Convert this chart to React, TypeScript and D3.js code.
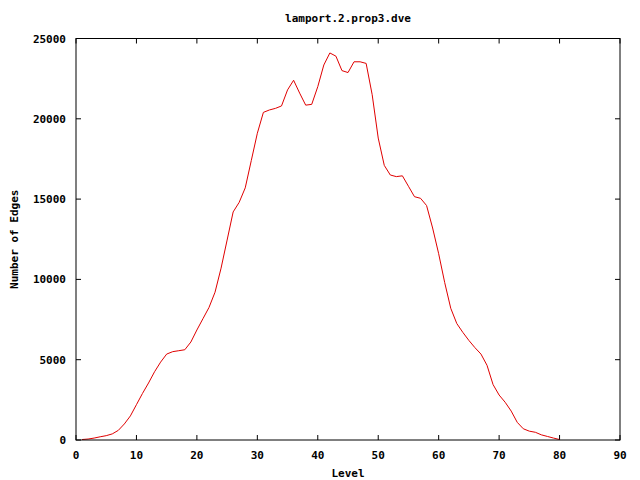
import React from "react";
import * as d3 from "d3";

const levels: number[] = Array.from({ length: 80 }, (_, i) => i + 1);
const edges: number[] = [
  30, 60, 120, 200, 270, 380, 600, 1000, 1500, 2200,
  2900, 3550, 4250, 4850, 5350, 5500, 5560, 5620, 6100, 6850,
  7550, 8250, 9200, 10700, 12450, 14200, 14800, 15700, 17400, 19100,
  20400, 20550, 20650, 20800, 21800, 22400, 21600, 20850, 20900, 22000,
  23350, 24100, 23900, 23000, 22880, 23550, 23550, 23450, 21500, 18800,
  17100, 16500, 16400, 16450, 15800, 15150, 15050, 14600, 13200, 11600,
  9800, 8200, 7250, 6700, 6200, 5750, 5350, 4650, 3450, 2800,
  2350, 1800, 1100, 700, 550, 480, 320, 220, 120, 30,
];
const xTicks: number[] = [0, 10, 20, 30, 40, 50, 60, 70, 80, 90];
const yTicks: number[] = [0, 5000, 10000, 15000, 20000, 25000];
const title = "lamport.2.prop3.dve";
const xLabel = "Level";
const yLabel = "Number of Edges";

export default function App() {
  const W = 640, H = 480;
  const L = 76, R = 620, T = 38.5, B = 440;
  const x = d3.scaleLinear().domain([0, 90]).range([L, R]);
  const y = d3.scaleLinear().domain([0, 25000]).range([B, T]);
  const line = d3
    .line<number>()
    .x((_, i) => x(levels[i]))
    .y((d) => y(d));
  const font = "'DejaVu Sans Mono', monospace";
  const tl = 5;
  return (
    <svg
      width={W}
      height={H}
      style={{ position: "absolute", left: 0, top: 0, background: "#fff" }}
      fontFamily={font}
      fontWeight="bold"
      fontSize={11}
    >
      <rect x={0} y={0} width={W} height={H} fill="#fff" />
      {xTicks.map((t) => (
        <g key={"x" + t}>
          <line x1={x(t)} x2={x(t)} y1={B} y2={B - tl} stroke="#000" />
          <line x1={x(t)} x2={x(t)} y1={T} y2={T + tl} stroke="#000" />
          <text x={x(t)} y={B + 19} textAnchor="middle" fill="#000">
            {t}
          </text>
        </g>
      ))}
      {yTicks.map((t) => (
        <g key={"y" + t}>
          <line x1={L} x2={L + tl} y1={y(t)} y2={y(t)} stroke="#000" />
          <line x1={R} x2={R - tl} y1={y(t)} y2={y(t)} stroke="#000" />
          <text x={L - 10} y={y(t) + 4} textAnchor="end" fill="#000">
            {t}
          </text>
        </g>
      ))}
      <path d={line(edges) || ""} fill="none" stroke="#e00000" strokeWidth={1} />
      <rect x={L} y={T} width={R - L} height={B - T} fill="none" stroke="#000" strokeWidth={1} />
      <text x={(L + R) / 2} y={22} textAnchor="middle" fill="#000">
        {title}
      </text>
      <text x={(L + R) / 2} y={477} textAnchor="middle" fill="#000">
        {xLabel}
      </text>
      <text
        transform={`translate(18,${(T + B) / 2}) rotate(-90)`}
        textAnchor="middle"
        fill="#000"
      >
        {yLabel}
      </text>
    </svg>
  );
}
